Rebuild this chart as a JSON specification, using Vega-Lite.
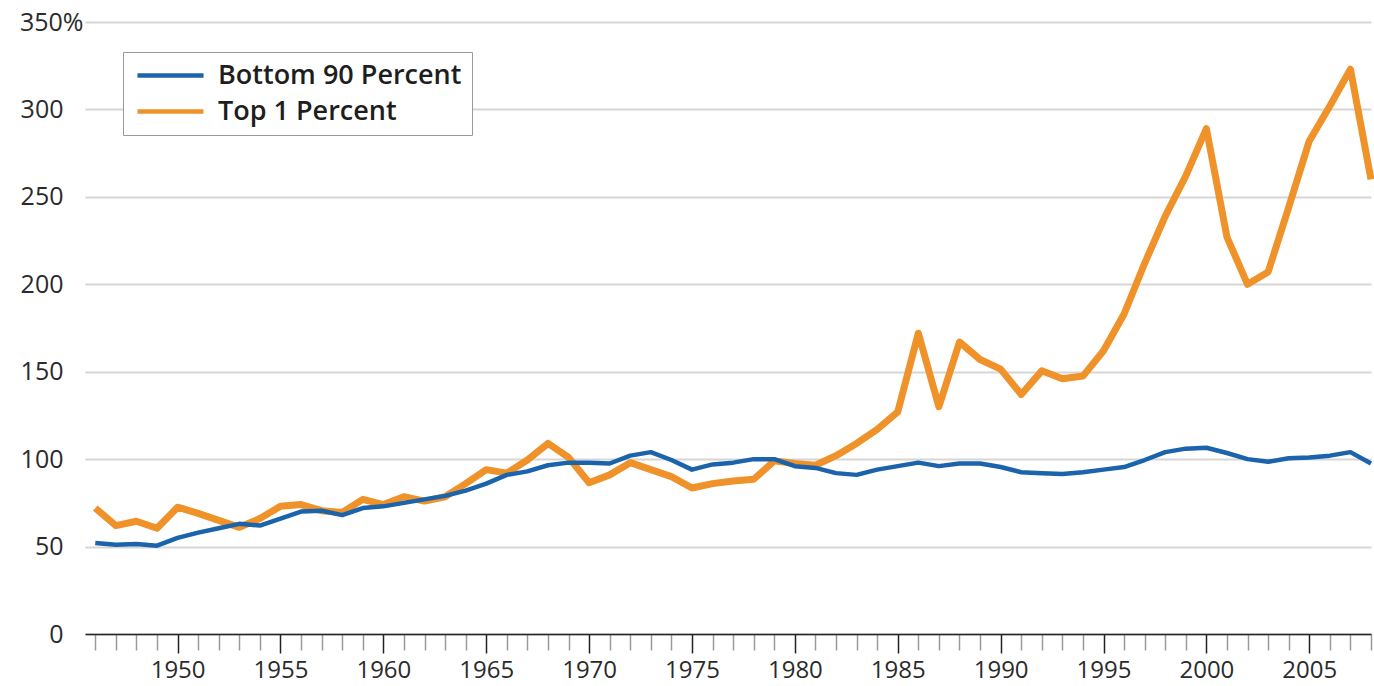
{
  "$schema": "https://vega.github.io/schema/vega-lite/v6.json",
  "width": 1286,
  "height": 612,
  "autosize": "none",
  "padding": {"left": 85, "top": 22, "right": 3, "bottom": 52},
  "background": "white",
  "config": {
    "view": {"stroke": null},
    "font": "Open Sans"
  },
  "data": {
    "values": [
      {"year": 1946, "series": "Top 1 Percent", "value": 72},
      {"year": 1947, "series": "Top 1 Percent", "value": 62},
      {"year": 1948, "series": "Top 1 Percent", "value": 64.5},
      {"year": 1949, "series": "Top 1 Percent", "value": 60.5},
      {"year": 1950, "series": "Top 1 Percent", "value": 72.5},
      {"year": 1951, "series": "Top 1 Percent", "value": 69},
      {"year": 1952, "series": "Top 1 Percent", "value": 65},
      {"year": 1953, "series": "Top 1 Percent", "value": 61},
      {"year": 1954, "series": "Top 1 Percent", "value": 66},
      {"year": 1955, "series": "Top 1 Percent", "value": 73},
      {"year": 1956, "series": "Top 1 Percent", "value": 74},
      {"year": 1957, "series": "Top 1 Percent", "value": 70.5},
      {"year": 1958, "series": "Top 1 Percent", "value": 69.5},
      {"year": 1959, "series": "Top 1 Percent", "value": 77},
      {"year": 1960, "series": "Top 1 Percent", "value": 74},
      {"year": 1961, "series": "Top 1 Percent", "value": 78.5},
      {"year": 1962, "series": "Top 1 Percent", "value": 76},
      {"year": 1963, "series": "Top 1 Percent", "value": 78.5},
      {"year": 1964, "series": "Top 1 Percent", "value": 86},
      {"year": 1965, "series": "Top 1 Percent", "value": 94},
      {"year": 1966, "series": "Top 1 Percent", "value": 92},
      {"year": 1967, "series": "Top 1 Percent", "value": 99.5},
      {"year": 1968, "series": "Top 1 Percent", "value": 109},
      {"year": 1969, "series": "Top 1 Percent", "value": 101},
      {"year": 1970, "series": "Top 1 Percent", "value": 86.5},
      {"year": 1971, "series": "Top 1 Percent", "value": 91},
      {"year": 1972, "series": "Top 1 Percent", "value": 98},
      {"year": 1973, "series": "Top 1 Percent", "value": 94},
      {"year": 1974, "series": "Top 1 Percent", "value": 90},
      {"year": 1975, "series": "Top 1 Percent", "value": 83.5},
      {"year": 1976, "series": "Top 1 Percent", "value": 86},
      {"year": 1977, "series": "Top 1 Percent", "value": 87.5},
      {"year": 1978, "series": "Top 1 Percent", "value": 88.5},
      {"year": 1979, "series": "Top 1 Percent", "value": 99},
      {"year": 1980, "series": "Top 1 Percent", "value": 97.5},
      {"year": 1981, "series": "Top 1 Percent", "value": 96.5},
      {"year": 1982, "series": "Top 1 Percent", "value": 102},
      {"year": 1983, "series": "Top 1 Percent", "value": 109},
      {"year": 1984, "series": "Top 1 Percent", "value": 117},
      {"year": 1985, "series": "Top 1 Percent", "value": 127},
      {"year": 1986, "series": "Top 1 Percent", "value": 172},
      {"year": 1987, "series": "Top 1 Percent", "value": 130},
      {"year": 1988, "series": "Top 1 Percent", "value": 167},
      {"year": 1989, "series": "Top 1 Percent", "value": 157},
      {"year": 1990, "series": "Top 1 Percent", "value": 151.5},
      {"year": 1991, "series": "Top 1 Percent", "value": 137},
      {"year": 1992, "series": "Top 1 Percent", "value": 150.5},
      {"year": 1993, "series": "Top 1 Percent", "value": 146},
      {"year": 1994, "series": "Top 1 Percent", "value": 147.5},
      {"year": 1995, "series": "Top 1 Percent", "value": 162},
      {"year": 1996, "series": "Top 1 Percent", "value": 183},
      {"year": 1997, "series": "Top 1 Percent", "value": 212},
      {"year": 1998, "series": "Top 1 Percent", "value": 239},
      {"year": 1999, "series": "Top 1 Percent", "value": 262},
      {"year": 2000, "series": "Top 1 Percent", "value": 289},
      {"year": 2001, "series": "Top 1 Percent", "value": 227},
      {"year": 2002, "series": "Top 1 Percent", "value": 200},
      {"year": 2003, "series": "Top 1 Percent", "value": 207},
      {"year": 2004, "series": "Top 1 Percent", "value": 244},
      {"year": 2005, "series": "Top 1 Percent", "value": 282},
      {"year": 2006, "series": "Top 1 Percent", "value": 302},
      {"year": 2007, "series": "Top 1 Percent", "value": 323},
      {"year": 2008, "series": "Top 1 Percent", "value": 260},
      {"year": 1946, "series": "Bottom 90 Percent", "value": 52},
      {"year": 1947, "series": "Bottom 90 Percent", "value": 51},
      {"year": 1948, "series": "Bottom 90 Percent", "value": 51.5},
      {"year": 1949, "series": "Bottom 90 Percent", "value": 50.5},
      {"year": 1950, "series": "Bottom 90 Percent", "value": 55},
      {"year": 1951, "series": "Bottom 90 Percent", "value": 58},
      {"year": 1952, "series": "Bottom 90 Percent", "value": 60.5},
      {"year": 1953, "series": "Bottom 90 Percent", "value": 63},
      {"year": 1954, "series": "Bottom 90 Percent", "value": 62},
      {"year": 1955, "series": "Bottom 90 Percent", "value": 66},
      {"year": 1956, "series": "Bottom 90 Percent", "value": 70},
      {"year": 1957, "series": "Bottom 90 Percent", "value": 70.5},
      {"year": 1958, "series": "Bottom 90 Percent", "value": 68},
      {"year": 1959, "series": "Bottom 90 Percent", "value": 72},
      {"year": 1960, "series": "Bottom 90 Percent", "value": 73},
      {"year": 1961, "series": "Bottom 90 Percent", "value": 75},
      {"year": 1962, "series": "Bottom 90 Percent", "value": 77},
      {"year": 1963, "series": "Bottom 90 Percent", "value": 79},
      {"year": 1964, "series": "Bottom 90 Percent", "value": 82},
      {"year": 1965, "series": "Bottom 90 Percent", "value": 86},
      {"year": 1966, "series": "Bottom 90 Percent", "value": 91},
      {"year": 1967, "series": "Bottom 90 Percent", "value": 93},
      {"year": 1968, "series": "Bottom 90 Percent", "value": 96.5},
      {"year": 1969, "series": "Bottom 90 Percent", "value": 98},
      {"year": 1970, "series": "Bottom 90 Percent", "value": 98},
      {"year": 1971, "series": "Bottom 90 Percent", "value": 97.5},
      {"year": 1972, "series": "Bottom 90 Percent", "value": 102},
      {"year": 1973, "series": "Bottom 90 Percent", "value": 104},
      {"year": 1974, "series": "Bottom 90 Percent", "value": 99.5},
      {"year": 1975, "series": "Bottom 90 Percent", "value": 94},
      {"year": 1976, "series": "Bottom 90 Percent", "value": 97},
      {"year": 1977, "series": "Bottom 90 Percent", "value": 98},
      {"year": 1978, "series": "Bottom 90 Percent", "value": 100},
      {"year": 1979, "series": "Bottom 90 Percent", "value": 100},
      {"year": 1980, "series": "Bottom 90 Percent", "value": 96},
      {"year": 1981, "series": "Bottom 90 Percent", "value": 95},
      {"year": 1982, "series": "Bottom 90 Percent", "value": 92},
      {"year": 1983, "series": "Bottom 90 Percent", "value": 91},
      {"year": 1984, "series": "Bottom 90 Percent", "value": 94},
      {"year": 1985, "series": "Bottom 90 Percent", "value": 96},
      {"year": 1986, "series": "Bottom 90 Percent", "value": 98},
      {"year": 1987, "series": "Bottom 90 Percent", "value": 96},
      {"year": 1988, "series": "Bottom 90 Percent", "value": 97.5},
      {"year": 1989, "series": "Bottom 90 Percent", "value": 97.5},
      {"year": 1990, "series": "Bottom 90 Percent", "value": 95.5},
      {"year": 1991, "series": "Bottom 90 Percent", "value": 92.5},
      {"year": 1992, "series": "Bottom 90 Percent", "value": 92},
      {"year": 1993, "series": "Bottom 90 Percent", "value": 91.5},
      {"year": 1994, "series": "Bottom 90 Percent", "value": 92.5},
      {"year": 1995, "series": "Bottom 90 Percent", "value": 94},
      {"year": 1996, "series": "Bottom 90 Percent", "value": 95.5},
      {"year": 1997, "series": "Bottom 90 Percent", "value": 99.5},
      {"year": 1998, "series": "Bottom 90 Percent", "value": 104},
      {"year": 1999, "series": "Bottom 90 Percent", "value": 106},
      {"year": 2000, "series": "Bottom 90 Percent", "value": 106.5},
      {"year": 2001, "series": "Bottom 90 Percent", "value": 103.5},
      {"year": 2002, "series": "Bottom 90 Percent", "value": 100},
      {"year": 2003, "series": "Bottom 90 Percent", "value": 98.5},
      {"year": 2004, "series": "Bottom 90 Percent", "value": 100.5},
      {"year": 2005, "series": "Bottom 90 Percent", "value": 101},
      {"year": 2006, "series": "Bottom 90 Percent", "value": 102},
      {"year": 2007, "series": "Bottom 90 Percent", "value": 104},
      {"year": 2008, "series": "Bottom 90 Percent", "value": 97.5}
    ]
  },
  "encoding": {
    "x": {
      "field": "year",
      "type": "quantitative",
      "scale": {"domain": [1945.5, 2008], "nice": false, "zero": false},
      "axis": {
        "title": null,
        "values": [1946,1947,1948,1949,1950,1951,1952,1953,1954,1955,1956,1957,1958,1959,1960,1961,1962,1963,1964,1965,1966,1967,1968,1969,1970,1971,1972,1973,1974,1975,1976,1977,1978,1979,1980,1981,1982,1983,1984,1985,1986,1987,1988,1989,1990,1991,1992,1993,1994,1995,1996,1997,1998,1999,2000,2001,2002,2003,2004,2005,2006,2007,2008],
        "format": "d",
        "labelExpr": "datum.value % 5 == 0 ? datum.label : ''",
        "labelOverlap": false,
        "labelFlush": false,
        "labelFontSize": 24,
        "labelColor": "#2b2b2b",
        "labelPadding": 5,
        "grid": false,
        "domain": true,
        "domainColor": "#222222",
        "domainWidth": 1.5,
        "ticks": true,
        "tickSize": {"condition": {"test": "datum.value % 5 == 0", "value": 19}, "value": 16},
        "tickColor": {"condition": {"test": "datum.value % 5 == 0", "value": "#222222"}, "value": "#9a9a9a"},
        "tickWidth": 1.5
      }
    },
    "y": {
      "field": "value",
      "type": "quantitative",
      "scale": {"domain": [0, 350], "nice": false},
      "axis": {
        "title": null,
        "values": [0, 50, 100, 150, 200, 250, 300, 350],
        "labelExpr": "datum.value == 350 ? '350%' : datum.label",
        "labelFontSize": 25,
        "labelColor": "#2b2b2b",
        "labelAlign": "right",
        "labelBaseline": "middle",
        "labelPadding": {"condition": {"test": "datum.value == 350", "value": 2}, "value": 22},
        "ticks": false,
        "domain": false,
        "grid": true,
        "gridColor": "#d6d6d6",
        "gridWidth": 2
      }
    },
    "color": {
      "field": "series",
      "type": "nominal",
      "scale": {"domain": ["Bottom 90 Percent", "Top 1 Percent"], "range": ["#1b63ab", "#f0922a"]},
      "legend": {
        "title": null,
        "orient": "none",
        "legendX": 38,
        "legendY": 30,
        "fillColor": "white",
        "strokeColor": "#9a9a9a",
        "padding": 10,
        "symbolType": "M-3,0H3",
        "symbolSize": 484,
        "symbolStrokeWidth": 4.5,
        "symbolOffset": 24,
        "labelOffset": 34,
        "labelFontSize": 27,
        "labelFontWeight": 600,
        "labelLimit": 500,
        "labelColor": "#1e1e1e",
        "rowPadding": 8
      }
    }
  },
  "layer": [
    {
      "transform": [{"filter": "datum.series == 'Top 1 Percent'"}],
      "mark": {"type": "line", "strokeWidth": 7, "strokeJoin": "round"}
    },
    {
      "transform": [{"filter": "datum.series == 'Bottom 90 Percent'"}],
      "mark": {"type": "line", "strokeWidth": 4.5, "strokeJoin": "round"}
    }
  ]
}
